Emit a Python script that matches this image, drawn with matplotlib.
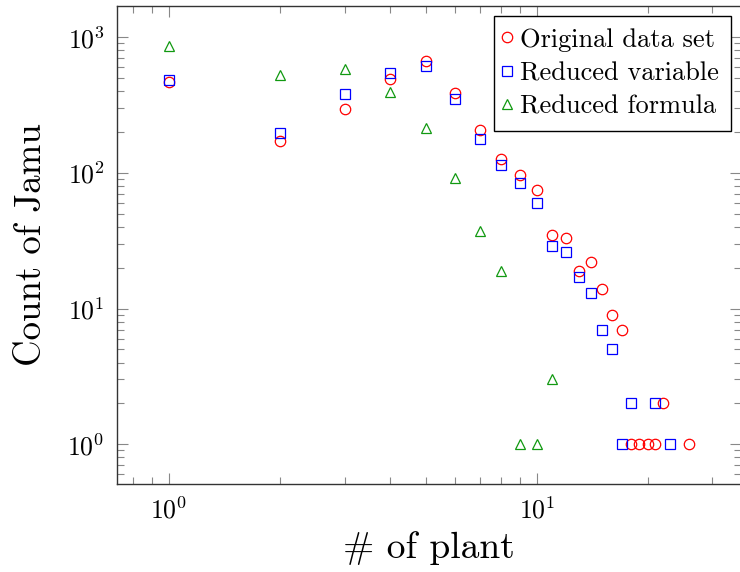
import matplotlib
matplotlib.use("Agg")
import matplotlib.pyplot as plt
from matplotlib.ticker import LogLocator, NullFormatter

plt.rcParams['font.family'] = ['cmr10', 'DejaVu Serif']
plt.rcParams['mathtext.fontset'] = 'cm'
plt.rcParams['axes.formatter.use_mathtext'] = True

# Data
x_orig = [1, 2, 3, 4, 5, 6, 7, 8, 9, 10, 11, 12, 13, 14, 15, 16, 17, 18, 19, 20, 21, 22, 26]
y_orig = [466, 173, 297, 492, 665, 388, 207, 126, 96, 75, 35, 33, 19, 22, 14, 9, 7, 1, 1, 1, 1, 2, 1]

x_var = [1, 2, 3, 4, 5, 6, 7, 8, 9, 10, 11, 12, 13, 14, 15, 16, 17, 18, 21, 23]
y_var = [485, 196, 379, 545, 618, 352, 177, 114, 84, 60, 29, 26, 17, 13, 7, 5, 1, 2, 2, 1]

x_form = [1, 2, 3, 4, 5, 6, 7, 8, 9, 10, 11]
y_form = [862, 527, 588, 394, 214, 92, 37, 19, 1, 1, 3]

labels = ["Original data set", "Reduced variable", "Reduced formula"]
xlabel = "# of plant"
ylabel = "Count of Jamu"

fig = plt.figure(figsize=(7.4, 5.72), dpi=100)
ax = fig.add_axes([117/740, 88/572, 624/740, 478/572])

ax.plot(x_orig, y_orig, linestyle='none', marker='o', markersize=7.5,
        markerfacecolor='none', markeredgecolor='red', markeredgewidth=0.9, label=labels[0])
ax.plot(x_var, y_var, linestyle='none', marker='s', markersize=7.5,
        markerfacecolor='none', markeredgecolor='blue', markeredgewidth=0.9, label=labels[1])
ax.plot(x_form, y_form, linestyle='none', marker='^', markersize=6.5,
        markerfacecolor='none', markeredgecolor='#119911', markeredgewidth=0.9, label=labels[2])

ax.set_xscale('log')
ax.set_yscale('log')
ax.set_xlim(0.722, 35.9)
ax.set_ylim(0.509, 1700)

ax.xaxis.set_minor_locator(LogLocator(base=10, subs=range(2, 10)))
ax.yaxis.set_minor_locator(LogLocator(base=10, subs=range(2, 10)))
ax.xaxis.set_minor_formatter(NullFormatter())
ax.yaxis.set_minor_formatter(NullFormatter())

ax.tick_params(which='both', direction='in', top=True, right=True, color='#888888', width=0.8)
ax.tick_params(which='major', length=8, labelsize=18.5, pad=9)
ax.tick_params(which='minor', length=5)

for s in ax.spines.values():
    s.set_color('#333333')
    s.set_linewidth(1.0)

ax.set_xlabel(xlabel, fontsize=27, labelpad=6)
ax.set_ylabel(ylabel, fontsize=26.5, labelpad=14)

leg = ax.legend(loc='upper right', fontsize=19, frameon=True, fancybox=False,
                edgecolor='black', framealpha=1, handlelength=0.05, handletextpad=0.49,
                labelspacing=0.37, borderpad=0.45, borderaxespad=0.38, markerscale=1.0)
leg.get_frame().set_linewidth(1.0)

fig.savefig("out.png", dpi=100)
